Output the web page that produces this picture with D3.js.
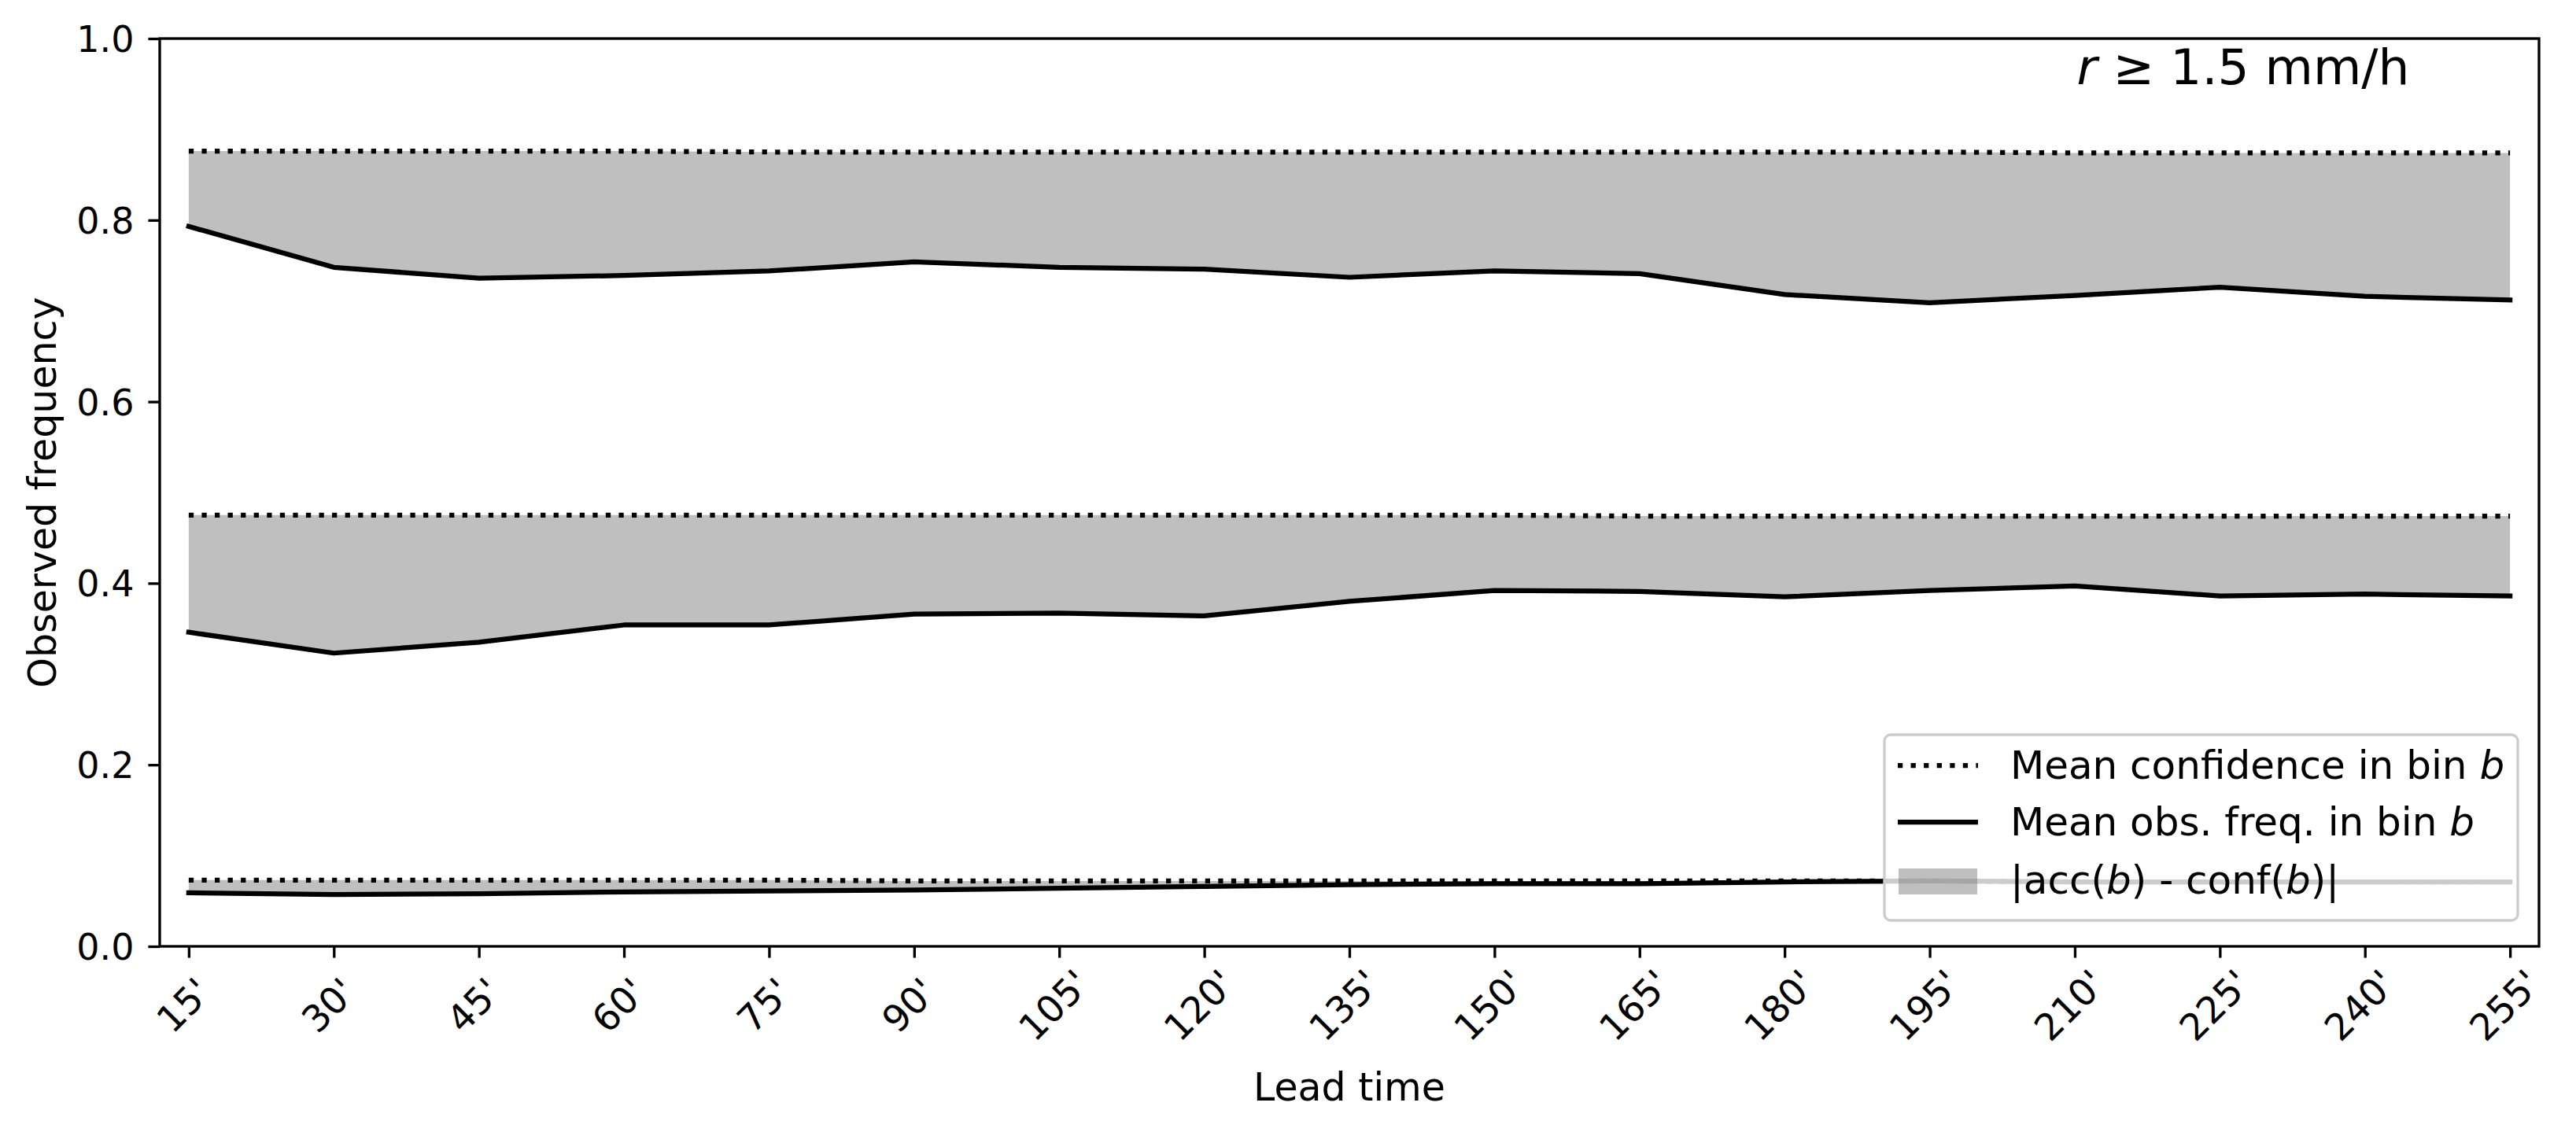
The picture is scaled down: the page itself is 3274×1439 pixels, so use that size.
<!DOCTYPE html>
<html>
<head>
<meta charset="utf-8">
<script src="https://cdn.jsdelivr.net/npm/d3@7"></script>
<style>
  html, body { margin: 0; padding: 0; background: #ffffff; }
  svg { display: block; font-family: "DejaVu Sans", sans-serif; }
</style>
</head>
<body>
<svg id="chart" width="3274" height="1439"></svg>
<script>
// ---------------- data ----------------
const leadTimes = ["15'", "30'", "45'", "60'", "75'", "90'", "105'", "120'", "135'", "150'", "165'", "180'", "195'", "210'", "225'", "240'", "255'"];

const confHigh = [0.876, 0.876, 0.876, 0.876, 0.875, 0.875, 0.875, 0.875, 0.875, 0.875, 0.875, 0.875, 0.875, 0.874, 0.874, 0.874, 0.874];
const obsHigh  = [0.793, 0.748, 0.736, 0.739, 0.744, 0.754, 0.748, 0.746, 0.737, 0.744, 0.741, 0.718, 0.709, 0.717, 0.726, 0.716, 0.712];

const confMid  = [0.475, 0.475, 0.475, 0.475, 0.475, 0.475, 0.475, 0.475, 0.475, 0.475, 0.474, 0.474, 0.474, 0.474, 0.474, 0.474, 0.474];
const obsMid   = [0.346, 0.323, 0.335, 0.354, 0.354, 0.366, 0.367, 0.364, 0.380, 0.392, 0.391, 0.385, 0.392, 0.397, 0.386, 0.388, 0.386];

const confLow  = [0.073, 0.073, 0.073, 0.073, 0.073, 0.072, 0.072, 0.072, 0.072, 0.072, 0.072, 0.072, 0.072, 0.071, 0.071, 0.071, 0.071];
const obsLow   = [0.059, 0.057, 0.058, 0.060, 0.061, 0.062, 0.064, 0.066, 0.068, 0.069, 0.069, 0.071, 0.072, 0.071, 0.071, 0.071, 0.071];

const yTicks = [0.0, 0.2, 0.4, 0.6, 0.8, 1.0];
const legendLabels = ["Mean confidence in bin ", "Mean obs. freq. in bin ", "|acc(", ") - conf(", ")|"];

// ---------------- layout ----------------
const svg = d3.select("#chart");
const plot = { left: 203, right: 3227, top: 49, bottom: 1203 };
const pt = 300 / 72; // px per point

const x = d3.scalePoint().domain(leadTimes).range([plot.left, plot.right]).padding(0.2);
const y = d3.scaleLinear().domain([0, 1]).range([plot.bottom, plot.top]);

svg.append("rect").attr("width", 3274).attr("height", 1439).attr("fill", "#ffffff");

const bins = [
  { conf: confHigh, obs: obsHigh },
  { conf: confMid,  obs: obsMid },
  { conf: confLow,  obs: obsLow }
];

const area = d3.area()
  .x((d, i) => x(leadTimes[i]))
  .y0(d => y(d.obs))
  .y1(d => y(d.conf));

const line = d3.line().x((d, i) => x(leadTimes[i])).y(d => y(d));

const g = svg.append("g");

bins.forEach(b => {
  const rows = b.conf.map((c, i) => ({ conf: c, obs: b.obs[i] }));
  g.append("path").attr("d", area(rows)).attr("fill", "#808080").attr("fill-opacity", 0.5);
});
bins.forEach(b => {
  g.append("path").attr("d", line(b.obs))
    .attr("fill", "none").attr("stroke", "#000").attr("stroke-width", 1.5 * pt)
    .attr("stroke-linejoin", "round").attr("stroke-linecap", "square");
  g.append("path").attr("d", line(b.conf))
    .attr("fill", "none").attr("stroke", "#000").attr("stroke-width", 1.5 * pt)
    .attr("stroke-dasharray", `${1.5 * pt},${1.5 * 1.65 * pt}`)
    .attr("stroke-linejoin", "round").attr("stroke-linecap", "butt");
});

// ---------------- axes ----------------
const tickLen = 3.5 * pt;
const yAxis = svg.append("g").attr("transform", `translate(${plot.left},0)`)
  .call(d3.axisLeft(y).tickValues(yTicks).tickFormat(d3.format(".1f")).tickSize(tickLen).tickPadding(18));
yAxis.select(".domain").remove();
yAxis.selectAll(".tick line").attr("stroke", "#000").attr("stroke-width", 0.8 * pt);
yAxis.selectAll(".tick text").attr("font-size", 46).attr("fill", "#000")
  .attr("font-family", "DejaVu Sans").attr("dy", "0.36em");

const xAxis = svg.append("g").attr("transform", `translate(0,${plot.bottom})`)
  .call(d3.axisBottom(x).tickSize(tickLen).tickPadding(0));
xAxis.select(".domain").remove();
xAxis.selectAll(".tick line").attr("stroke", "#000").attr("stroke-width", 0.8 * pt);
xAxis.selectAll(".tick text")
  .attr("font-size", 47).attr("fill", "#000").attr("font-family", "DejaVu Sans")
  .attr("y", null).attr("dy", null)
  .attr("text-anchor", "middle").attr("dominant-baseline", "central")
  .attr("transform", "translate(-7,75) rotate(-45)");

// spines
svg.append("rect")
  .attr("x", plot.left).attr("y", plot.top)
  .attr("width", plot.right - plot.left).attr("height", plot.bottom - plot.top)
  .attr("fill", "none").attr("stroke", "#000").attr("stroke-width", 0.8 * pt);

// axis labels
svg.append("text").attr("x", (plot.left + plot.right) / 2).attr("y", 1399)
  .attr("text-anchor", "middle").attr("font-size", 49).attr("fill", "#000").text("Lead time");
svg.append("text").attr("transform", `translate(54,${(plot.top + plot.bottom) / 2}) rotate(-90)`)
  .attr("text-anchor", "middle").attr("dominant-baseline", "central")
  .attr("font-size", 49).attr("fill", "#000").text("Observed frequency");

// title annotation
const t = svg.append("text").attr("x", 2851).attr("y", 107).attr("text-anchor", "middle")
  .attr("font-size", 63).attr("fill", "#000");
t.append("tspan").attr("font-style", "italic").text("r");
t.append("tspan").text(" \u2265 1.5 mm/h");

// ---------------- legend ----------------
const lg = svg.append("g");
lg.append("rect").attr("x", 2395).attr("y", 934).attr("width", 805).attr("height", 236)
  .attr("rx", 8).attr("ry", 8)
  .attr("fill", "#ffffff").attr("fill-opacity", 0.8)
  .attr("stroke", "#cccccc").attr("stroke-width", 0.8 * pt);

const hx0 = 2412, hx1 = 2514, tx = 2555;
const rowY = [973, 1045, 1120.5];
lg.append("line").attr("x1", hx0).attr("x2", hx1).attr("y1", rowY[0]).attr("y2", rowY[0])
  .attr("stroke", "#000").attr("stroke-width", 1.5 * pt)
  .attr("stroke-dasharray", `${1.5 * pt},${1.5 * 1.65 * pt}`);
lg.append("line").attr("x1", hx0).attr("x2", hx1).attr("y1", rowY[1]).attr("y2", rowY[1])
  .attr("stroke", "#000").attr("stroke-width", 1.5 * pt);
lg.append("rect").attr("x", hx0 + 1).attr("y", rowY[2] - 16.5).attr("width", hx1 - hx0 - 2).attr("height", 33)
  .attr("fill", "#808080").attr("fill-opacity", 0.5);

const fs = 50;
const l1 = lg.append("text").attr("x", tx).attr("y", rowY[0] + 17).attr("font-size", fs).attr("fill", "#000");
l1.append("tspan").text(legendLabels[0]);
l1.append("tspan").attr("font-style", "italic").text("b");
const l2 = lg.append("text").attr("x", tx).attr("y", rowY[1] + 17).attr("font-size", fs).attr("fill", "#000");
l2.append("tspan").text(legendLabels[1]);
l2.append("tspan").attr("font-style", "italic").text("b");
const l3 = lg.append("text").attr("x", tx).attr("y", rowY[2] + 15).attr("font-size", fs).attr("fill", "#000");
l3.append("tspan").text(legendLabels[2]);
l3.append("tspan").attr("font-style", "italic").text("b");
l3.append("tspan").text(legendLabels[3]);
l3.append("tspan").attr("font-style", "italic").text("b");
l3.append("tspan").text(legendLabels[4]);
</script>
</body>
</html>
